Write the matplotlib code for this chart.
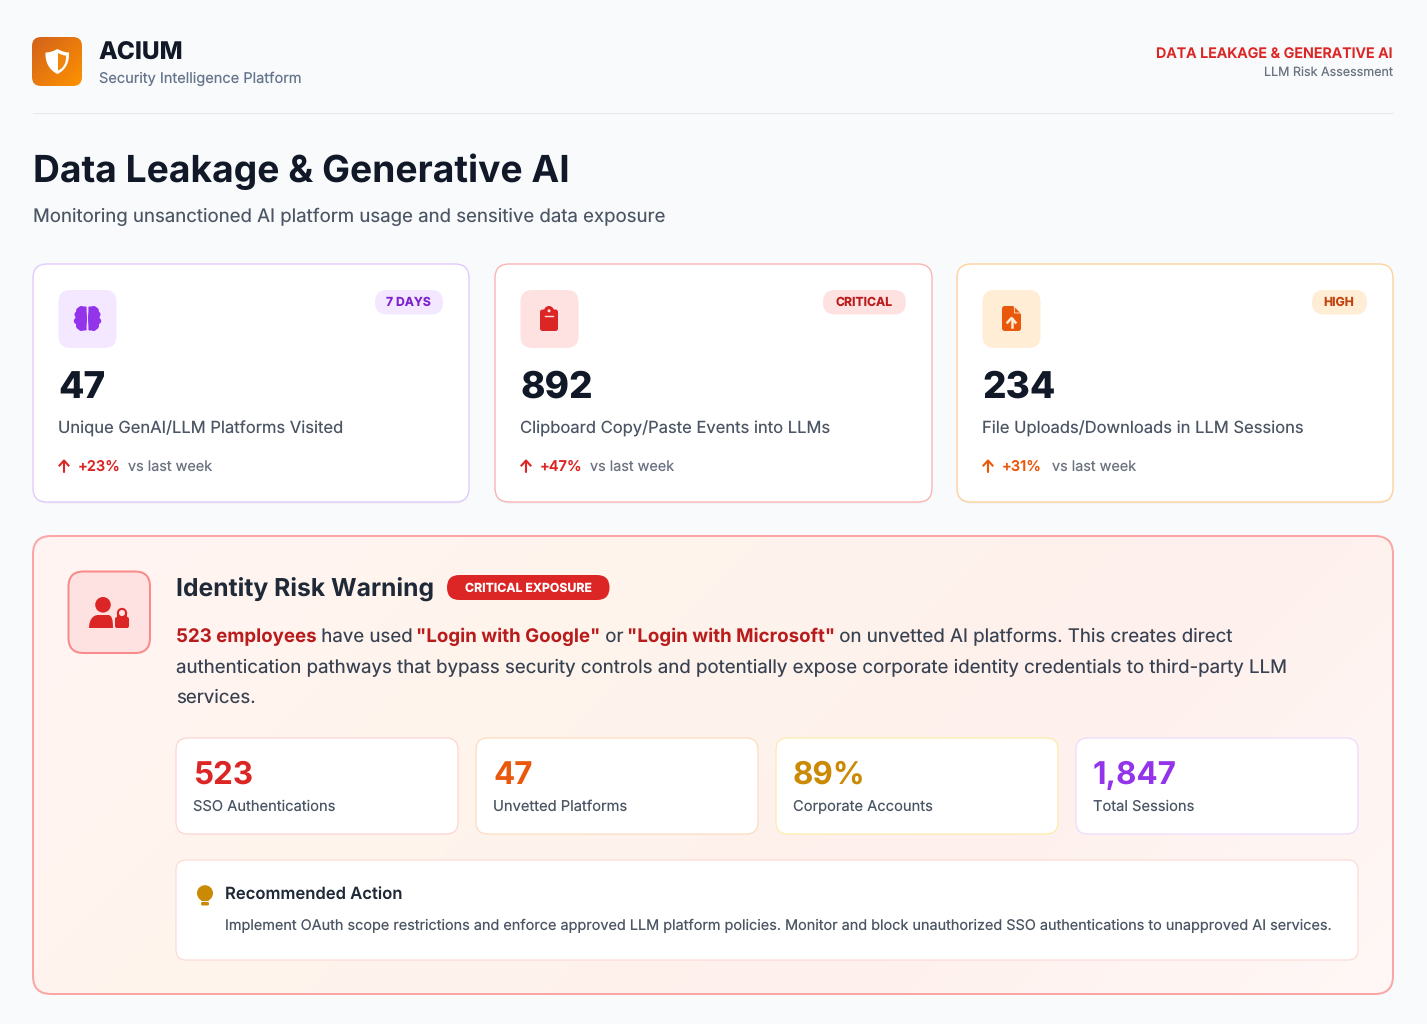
import numpy as np
from matplotlib import pyplot as plt
from matplotlib.patches import FancyBboxPatch, Circle, Ellipse, Polygon, PathPatch
from matplotlib.path import Path
from matplotlib.colors import LinearSegmentedColormap

plt.rcParams['font.family'] = ['Inter', 'DejaVu Sans']
plt.rcParams['text.hinting'] = 'no_hinting'

################################# CHART DATA ##################################

brand_name = 'ACIUM'
brand_sub = 'Security Intelligence Platform'
head_right = 'DATA LEAKAGE & GENERATIVE AI'
head_right_sub = 'LLM Risk Assessment'
page_title = 'Data Leakage & Generative AI'
page_sub = 'Monitoring unsanctioned AI platform usage and sensitive data exposure'

card_values = ['47', '892', '234']
card_labels = ['Unique GenAI/LLM Platforms Visited',
               'Clipboard Copy/Paste Events into LLMs',
               'File Uploads/Downloads in LLM Sessions']
card_badges = ['7 DAYS', 'CRITICAL', 'HIGH']
card_trends = ['+23%', '+47%', '+31%']

warn_title = 'Identity Risk Warning'
warn_badge = 'CRITICAL EXPOSURE'
warn_lines = [
    [('523 employees', True), (' have used ', False), ('"Login with Google"', True), (' or ', False),
     ('"Login with Microsoft"', True), (' on unvetted AI platforms. This creates direct', False)],
    [('authentication pathways that bypass security controls and potentially expose corporate identity credentials to third-party LLM', False)],
    [('services.', False)],
]

stat_values = ['523', '47', '89%', '1,847']
stat_labels = ['SSO Authentications', 'Unvetted Platforms', 'Corporate Accounts', 'Total Sessions']

rec_title = 'Recommended Action'
rec_text = ('Implement OAuth scope restrictions and enforce approved LLM platform policies. '
            'Monitor and block unauthorized SSO authentications to unapproved AI services.')

###############################################################################

W, H = 1427, 1024
fig = plt.figure(figsize=(W / 100, H / 100), dpi=100, facecolor='#f9fafc')
ax = fig.add_axes([0, 0, 1, 1])
ax.axis('off')


def px(size):
    # css pixels to points
    return size * 0.72


def box(x0, y0, x1, y1, r, fc, ec='none', lw=0, z=2):
    p = FancyBboxPatch((x0, y0), x1 - x0, y1 - y0, boxstyle='round,pad=0,rounding_size=%s' % r,
                       fc=fc, ec=ec, lw=lw * 0.72, zorder=z)
    ax.add_patch(p)
    return p


def txt(x, y, s, size, color, weight='normal', ha='left', z=5):
    return ax.text(x, y, s, fontsize=px(size), color=color, fontweight=weight, ha=ha, va='baseline', zorder=z)


def gradient(patch, colors, extent, z):
    # css style 135deg gradient, iso lines stay at 45 degrees
    x0, x1, y1, y0 = extent
    w, h = abs(x1 - x0), abs(y1 - y0)
    xx, yy = np.meshgrid(np.linspace(0, 1, 400), np.linspace(0, 1, 400))
    cmap = LinearSegmentedColormap.from_list('g', colors)
    im = ax.imshow((xx * w + yy * h) / (w + h), cmap=cmap, extent=extent, aspect='auto', zorder=z, vmin=0, vmax=1)
    im.set_clip_path(patch)


def shape(verts, codes, color, z=4):
    ax.add_patch(PathPatch(Path(verts, codes), fc=color, ec='none', zorder=z))


M, L, C, Z = Path.MOVETO, Path.LINETO, Path.CURVE4, Path.CLOSEPOLY

# page header
logo = box(32, 37, 82, 86, 9, 'none')
gradient(logo, ['#d2611c', '#ff9300'], (32, 82, 86, 37), 2)
shape([(57.5, 49), (62, 51.5), (66, 52.5), (69, 52.5), (69.5, 62), (66, 70), (57.5, 74), (49, 70), (45, 62), (45.5, 52.5),
       (49, 52.5), (53, 51.5), (57.5, 49), (57.5, 49)],
      [M, C, C, C, C, C, C, C, C, C, C, C, C, Z], 'white')
shape([(58, 53), (61, 54.5), (63, 55.5), (66, 55.5), (66.5, 62), (64, 68), (58, 70.5), (58, 70.5)],
      [M, C, C, C, C, C, C, Z], '#f08510')

txt(98.5, 60, brand_name, 24.4, '#111827', 800)
txt(99, 83, brand_sub, 14.6, '#64748b')
txt(1393, 58, head_right, 14.3, '#dc2626', 'semibold', ha='right')
txt(1393, 76, head_right_sub, 12.5, '#6b7280', ha='right')
ax.plot([33, 1393], [113, 113], color='#e8eaee', lw=0.8, zorder=2)

txt(33, 182, page_title, 37.25, '#111827', 'bold')
txt(33, 222, page_sub, 18.64, '#4b5563')

# top cards
card_x = [(33, 469), (495, 932), (957, 1393)]
card_edge = ['#dfc8fd', '#fbb0b0', '#fdd095']
icon_bg = ['#f3e8ff', '#fee2e2', '#ffedd5']
badge_x = [(375, 443), (823, 906), (1312, 1367)]
badge_fg = ['#7e22ce', '#b91c1c', '#c2410c']
trend_col = ['#dc2626', '#dc2626', '#ea580c']

for i in range(3):
    x0, x1 = card_x[i]
    box(x0, 265, x1, 503.5, 14, '#eef0f4', z=1.5)
    box(x0, 264, x1, 502, 14, 'white', card_edge[i], 1.3)
    ix = x0 + 25.5
    box(ix, 290, ix + 58, 348, 12, icon_bg[i])
    bx0, bx1 = badge_x[i]
    box(bx0, 290, bx1, 314.5, 12, icon_bg[i])
    txt((bx0 + bx1) / 2 - 0.5, 306, card_badges[i], 12.2, badge_fg[i], 'bold', ha='center')
    txt(ix, 398, card_values[i], 37, '#111827', 800)
    txt(ix, 434, card_labels[i], 16.56, '#4b5563')
    # trend arrow
    ax.plot([ix + 5.5, ix + 5.5], [472, 461], color=trend_col[i], lw=1.5, zorder=5, solid_capstyle='round')
    ax.plot([ix + 1, ix + 5.5, ix + 10], [465.5, 460.5, 465.5], color=trend_col[i], lw=1.5, zorder=5)
    txt(ix + 19.5, 471, card_trends[i], 14.6, trend_col[i], 'semibold')
    txt(ix + 70, 471, 'vs last week', 14.4, '#6b7280')

# brain icon
for cx in (81.2, 93.8):
    ax.add_patch(Ellipse((cx, 318.5), 11.5, 25, fc='#9333ea', ec='none', zorder=4))
    sign = -1 if cx < 87 else 1
    for dx, dy, r in [(3.5, -4, 3.2), (4.2, 2.5, 3.2), (2, 7.5, 3.2), (2, -8, 3)]:
        ax.add_patch(Circle((cx + sign * dx, 318.5 + dy), r, fc='#9333ea', ec='none', zorder=4))
    inner = 86.6 if cx < 87 else 88.4
    box(min(inner, cx), 306.5, max(inner, cx), 330.5, 1, '#9333ea', z=4)

# clipboard icon
box(540, 309.5, 558, 331, 2.5, '#dc2626', z=4)
ax.add_patch(Circle((549, 311), 5, fc='#dc2626', ec='none', zorder=4))
ax.add_patch(Circle((549, 310.8), 1.5, fc='#fee2e2', ec='none', zorder=4.5))
ax.plot([545, 553], [316.3, 316.3], color='#fee2e2', lw=1, zorder=4.5)

# file icon
shape([(1005, 306), (1013, 306), (1021, 314), (1021, 328), (1021, 330), (1020, 331), (1018, 331), (1005, 331), (1003, 331),
       (1002, 330), (1002, 328), (1002, 309), (1002, 307), (1003, 306), (1005, 306), (1005, 306)],
      [M, L, L, L, C, C, C, L, C, C, C, L, C, C, C, Z], '#ea580c')
ax.add_patch(Polygon([(1014.5, 306.5), (1021, 313), (1014.5, 313)], fc='#ea580c', ec='#ffedd5', lw=0.6, zorder=4.5))
ax.plot([1011.5, 1011.5], [327, 319], color='#ffedd5', lw=1.8, zorder=4.5)
ax.plot([1007.5, 1011.5, 1015.5], [322.5, 318, 322.5], color='#ffedd5', lw=1.8, zorder=4.5)

# warning panel
box(33, 536, 1393, 994, 18, 'none', '#fca5a5', 2, z=3)
gradient(box(33, 536, 1393, 994, 18, 'none'), ['#fff4f3', '#fff5ec', '#fef0ec', '#fff8f6'], (33, 1393, 994, 536), 2)

box(68.5, 571.5, 150, 653, 15, '#fee2e2', '#f88a8a', 2, z=4)
# person
ax.add_patch(Circle((103, 604.8), 7.8, fc='#dc2626', ec='none', zorder=5))
shape([(89, 628), (89, 620), (93, 615), (98, 615), (108, 615), (112, 615), (113, 620), (113, 628), (113, 628)],
      [M, C, C, C, L, C, C, C, Z], '#dc2626', z=5)
# lock
ax.add_patch(Ellipse((122, 613), 8.2, 8.2, fc='none', ec='#dc2626', lw=1.5, zorder=5))
ax.plot([117.9, 117.9], [613, 619], color='#dc2626', lw=1.5, zorder=5)
ax.plot([126.1, 126.1], [613, 619], color='#dc2626', lw=1.5, zorder=5)
box(115, 617, 129, 628, 2, '#dc2626', z=5)

txt(176, 597, warn_title, 24.7, '#1f2937', 'bold')
box(447, 575, 609.5, 600, 12.5, '#dc2626', z=4)
txt(528, 592, warn_badge, 12.3, 'white', 'bold', ha='center')

# body text is several runs on one line, measured with the renderer
rend = fig.canvas.get_renderer()
body_size = 18.7
for line, y in zip(warn_lines, [642, 673, 703]):
    x = 176
    for s, strong in line:
        weight = 'bold' if strong else 'normal'
        txt(x, y, s, body_size, '#b91c1c' if strong else '#374151', weight)
        # plain spaces at the ends are not measured, use a stand-in
        probe = ax.text(0, 0, s.replace(' ', '\u00a0'), fontsize=px(body_size), fontweight=weight)
        x += probe.get_window_extent(rend).width - 1.1
        probe.remove()

# stat boxes
stat_x = [(176, 458), (476, 758), (776, 1058), (1076, 1358)]
stat_edge = ['#fcd0d0', '#fdd8b8', '#fdeaa0', '#e9d8fd']
stat_col = ['#dc2626', '#ea580c', '#ca8a04', '#9333ea']
for i in range(4):
    x0, x1 = stat_x[i]
    box(x0, 738, x1, 834, 12, 'white', stat_edge[i], 1.1, z=4)
    txt(x0 + 17, 784, stat_values[i], 31.4, stat_col[i], 'bold')
    txt(x0 + 17, 811, stat_labels[i], 14.7, '#4b5563')

# recommended action
box(176, 860, 1358, 960, 10, 'white', '#fbd8d4', 1.1, z=4)
ax.add_patch(Circle((205, 893.2), 8, fc='#ca8a04', ec='none', zorder=5))
ax.add_patch(Polygon([(199.5, 897), (210.5, 897), (208.5, 901), (201.5, 901)], fc='#ca8a04', ec='none', zorder=5))
box(201, 902, 209, 905.5, 1.5, '#ca8a04', z=5)
txt(225, 900, rec_title, 16.64, '#1f2937', 'semibold')
txt(225, 930.5, rec_text, 14.45, '#4b5563')

ax.set_xlim(0, W)
ax.set_ylim(H, 0)
fig.savefig('out.png', dpi=100, facecolor=fig.get_facecolor())
